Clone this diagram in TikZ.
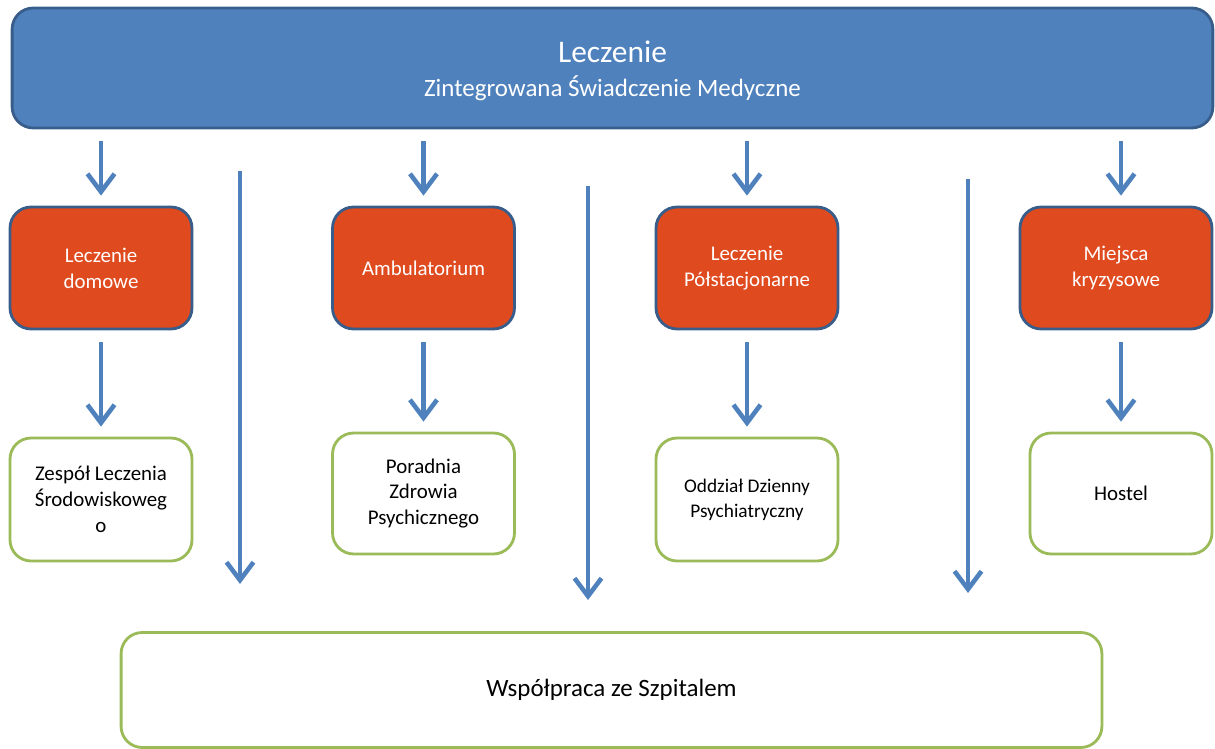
\documentclass[tikz,border=0pt]{standalone}
\usepackage{fontspec}
\setmainfont{Carlito}
\usepackage{tikz}
\usetikzlibrary{arrows.meta,positioning}
\definecolor{officeblue}{RGB}{79,129,189}
\definecolor{darkblue}{RGB}{56,93,138}
\definecolor{brickred}{RGB}{224,74,31}
\definecolor{olivegreen}{RGB}{155,187,89}
\tikzset{
  glowny/.style={
    rounded corners=12pt,
    draw=darkblue,
    line width=1.6pt,
    fill=officeblue,
    text=white,
    align=center,
    minimum width=24.02cm,
    minimum height=2.4cm
  },
  rodzaj/.style={
    rounded corners=12pt,
    draw=darkblue,
    line width=1.6pt,
    fill=brickred,
    text=white,
    align=center,
    minimum width=3.64cm,
    minimum height=2.44cm,
    font=\fontsize{11.9}{14.7}\selectfont
  },
  placowka/.style={
    rounded corners=12pt,
    draw=olivegreen,
    line width=1.6pt,
    fill=white,
    align=center,
    minimum width=3.64cm,
    minimum height=2.44cm,
    font=\fontsize{11.9}{14.7}\selectfont
  },
  arrow/.style={
    -{Straight Barb[length=3.6mm,width=5.4mm]},
    line width=2.6pt,
    officeblue,
    shorten <=0.24cm,
    shorten >=0.2cm
  }
}

\begin{document}
\begin{tikzpicture}[x=0.02cm,y=-0.02cm]
\useasboundingbox (0,0) rectangle (1215,749);
\node[glowny] (top) at (612.5,68) {};
\node[text=white, align=center] (tytul) at (612.5,71) {{\fontsize{17.9}{22}\selectfont Leczenie}\\[7pt]{\fontsize{14.2}{17}\selectfont Zintegrowana Świadczenie Medyczne}};

\node[rodzaj] (r1) at (101,268) {Leczenie\\domowe};
\node[rodzaj] (r2) at (423.5,268) {Ambulatorium};
\node[rodzaj] (r3) at (747,268) {Leczenie\\Półstacjonarne};
\node[rodzaj, minimum width=3.84cm] (r4) at (1116,268) {Miejsca\\kryzysowe};

\node[placowka, minimum height=2.46cm] (p1) at (101,499.5) {Zespół Leczenia\\Środowiskoweg\\o};
\node[placowka, minimum height=2.42cm] (p2) at (423.5,493.5) {Poradnia\\Zdrowia\\Psychicznego};
\node[placowka, minimum height=2.46cm, font=\fontsize{11}{14.2}\selectfont] (p3) at (747,499.5) {Oddział Dzienny\\Psychiatryczny};
\node[placowka, minimum height=2.42cm] (p4) at (1121,493.5) {Hostel};

\node[placowka, minimum width=19.62cm, minimum height=2.3cm, font=\fontsize{14.2}{17}\selectfont] (szpital) at (611.5,690) {Współpraca ze Szpitalem};

% strzalki od leczenia do rodzajow i placowek
\foreach \r/\p in {r1/p1, r2/p2, r3/p3, r4/p4}{
  \draw[arrow] (top.south -| \p) -- (\r.north -| \p);
  \draw[arrow] (\r.south -| \p) -- (\p.north);
}

% dlugie strzalki do szpitala
\coordinate (s1) at (240,171); \coordinate (k1) at (240,584);
\coordinate (s2) at (588,186); \coordinate (k2) at (588,600);
\coordinate (s3) at (968,179); \coordinate (k3) at (968,593);
\foreach \i in {1,2,3}
  \draw[arrow, shorten <=0pt, shorten >=0pt] (s\i) -- (k\i);
\end{tikzpicture}
\end{document}
